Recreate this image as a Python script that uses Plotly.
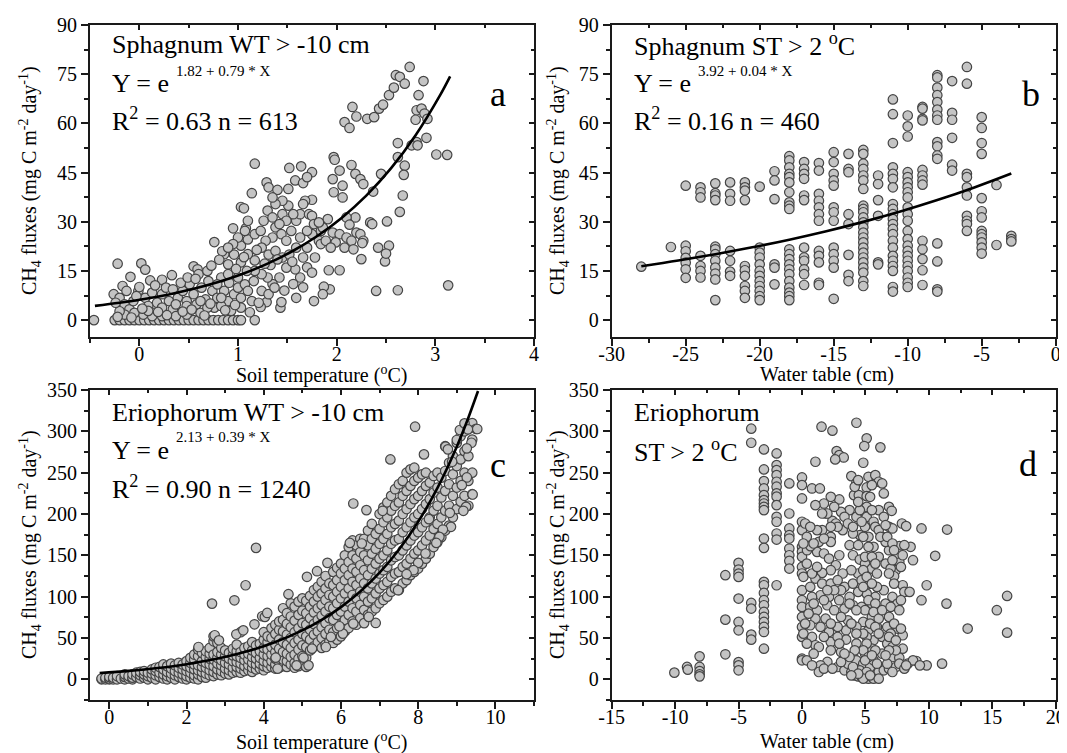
import plotly.graph_objects as go

# The page adds an 8 px body margin, so the figure is drawn 8 px smaller and
# every position below is given in screen pixels and shifted back by OFF.
OFF = 8
W, H = 1067 - OFF, 753 - OFF

# ---------------- data ----------------
# panel a: Sphagnum WT > -10 cm, soil temperature vs CH4 flux
a_zero_x = [-0.46, -0.25, -0.2, -0.15, -0.1, -0.05, 0.0, 0.05, 0.1, 0.15, 0.2, 0.25, 0.3, 0.35,
            0.4, 0.45, 0.5, 0.55, 0.6, 0.65, 0.7, 0.75, 0.8, 0.85, 0.9, 0.95, 1.0, 1.03, 1.17]
a_points = [
    (-0.22, 17.2), (0.02, 17.3), (0.06, 15.4), (-0.09, 13.2), (-0.17, 10.4), (0.11, 12.1), (0.23, 12.3),
    (0.33, 13.7), (0.55, 16.4), (0.59, 15.5), (0.76, 23.8), (0.95, 28.0), (1.03, 34.5), (1.06, 34.1),
    (1.17, 47.7), (1.14, 38.7), (1.08, 28.0), (1.29, 42.0), (1.31, 40.5), (1.40, 39.7), (1.51, 40.0),
    (1.52, 46.4), (1.64, 46.9), (1.58, 42.6), (1.66, 41.8), (1.75, 45.1), (1.70, 43.6), (1.75, 36.7),
    (1.68, 36.4), (1.97, 49.7), (1.98, 48.9), (1.96, 43.0), (1.97, 39.0), (2.06, 41.0), (2.06, 37.4),
    (2.03, 45.6), (2.15, 47.3), (2.19, 44.6), (2.24, 43.0), (2.27, 41.5), (2.08, 60.4), (2.13, 58.6),
    (2.16, 65.0), (2.20, 62.1), (2.31, 61.4), (2.38, 61.9), (2.43, 64.5), (2.47, 65.7), (2.53, 68.6),
    (2.58, 70.9), (2.60, 74.7), (2.64, 74.2), (2.69, 72.1), (2.74, 77.2), (2.88, 72.9), (2.83, 68.6),
    (2.81, 64.0), (2.86, 64.5), (2.89, 63.0), (2.92, 61.4), (2.80, 61.1), (2.81, 54.3), (2.91, 55.6),
    (2.76, 53.3), (2.82, 53.3), (3.01, 50.5), (3.12, 50.4), (3.13, 10.6), (2.62, 54.0), (2.62, 49.7),
    (2.69, 47.1), (2.68, 44.3), (2.67, 38.0), (2.64, 33.0), (2.62, 9.1), (2.40, 8.9), (2.45, 44.6),
    (2.37, 39.2), (2.34, 29.8), (2.36, 29.3), (2.51, 30.1), (2.42, 22.1), (2.53, 22.7), (2.49, 17.9),
    (2.50, 20.3), (2.25, 18.6), (2.03, 15.2), (1.92, 15.2), (1.93, 9.4), (1.87, 10.2), (1.86, 7.9),
    (1.77, 5.8), (1.59, 6.8), (1.43, 3.8), (1.44, 5.5), (1.29, 5.5), (1.23, 4.0),
    (1.96, 26.7), (2.03, 26.2), (2.10, 25.2), (2.15, 24.2), (2.20, 26.7), (2.24, 26.2), (2.27, 24.2),
    (1.99, 23.7), (2.08, 22.1), (2.17, 21.6), (2.19, 31.3), (2.10, 31.3), (2.13, 29.1), (2.26, 23.5),
    (1.91, 30.8), (1.84, 27.2), (1.82, 24.2), (1.75, 26.2), (1.70, 22.1), (1.66, 19.1), (1.78, 19.1),
    (1.70, 16.1), (1.75, 14.5), (1.63, 13.0), (1.66, 10.0), (1.56, 11.0), (1.58, 15.5), (1.49, 16.0),
    (1.42, 13.0), (1.35, 11.0), (1.30, 13.0), (1.24, 14.0), (1.17, 15.0), (1.17, 18.2), (1.10, 20.1),
    (1.03, 17.6), (0.96, 20.0), (0.90, 17.0), (0.86, 20.1), (0.84, 21.0), (1.03, 22.7), (1.10, 24.6),
    (1.17, 26.2), (1.23, 27.2), (1.26, 30.3), (1.30, 33.4), (1.35, 31.3), (1.38, 28.3), (1.44, 26.2),
    (1.49, 24.2), (1.54, 27.2), (1.59, 30.3), (1.63, 32.3), (1.66, 35.4), (1.72, 32.3), (1.75, 31.8),
    (1.56, 32.3), (1.51, 34.9), (1.45, 36.4), (1.38, 35.4), (1.35, 37.4), (1.45, 32.3), (1.49, 30.3),
    (1.42, 29.3), (1.35, 25.2), (1.28, 24.2), (1.24, 22.1), (1.31, 20.0), (1.38, 21.1), (1.45, 19.1),
    (1.52, 20.0), (1.59, 22.1), (1.63, 25.2), (1.70, 27.2), (1.84, 23.2), (1.89, 24.2), (1.94, 22.1),
    (1.86, 28.2), (1.77, 29.3), (1.82, 29.8), (1.07, 27.2), (1.00, 25.2), (0.95, 23.2), (0.90, 22.1),
    (1.10, 30.3), (1.33, 16.8), (1.40, 18.5), (1.47, 9.0),
    (-0.26, 7.9), (-0.20, 6.8), (-0.15, 4.8), (-0.10, 3.3), (-0.06, 5.8), (-0.01, 8.9), (0.00, 10.1),
    (0.06, 6.8), (0.09, 4.3), (0.15, 2.2), (0.18, 5.3), (0.23, 7.9), (0.27, 9.9), (0.30, 5.8),
    (0.34, 3.3), (0.39, 6.8), (0.44, 8.9), (0.48, 5.8), (0.51, 10.9), (0.55, 7.9), (0.58, 4.8),
    (0.63, 9.9), (0.67, 6.3), (0.70, 11.9), (0.74, 8.9), (0.79, 6.8), (0.83, 13.0), (0.86, 8.9),
    (0.90, 5.8), (0.91, 11.4), (0.96, 7.9), (1.00, 9.9), (1.03, 6.8), (1.07, 10.9), (1.10, 8.9),
    (1.14, 5.8), (1.16, 11.9), (0.76, 3.8), (0.62, 2.2), (0.48, 1.7), (0.37, 1.2), (0.23, 1.2),
    (0.13, 1.2), (0.04, 1.7), (-0.05, 2.2), (-0.15, 1.7), (-0.20, 2.7), (-0.24, 5.3), (-0.13, 8.9),
    (-0.03, 7.3), (0.13, 8.4), (0.34, 9.4), (0.42, 11.4), (0.49, 13.0), (0.60, 14.0), (0.69, 15.0),
    (0.79, 10.9), (0.90, 14.0), (1.00, 13.0), (1.09, 15.0), (0.69, 3.8), (0.83, 4.3), (0.93, 2.8),
    (1.03, 3.8), (0.48, 4.3), (0.37, 4.8), (0.23, 3.8), (0.09, 2.8), (0.83, 6.8), (0.62, 5.8),
    (1.24, 8.9), (1.31, 7.9), (1.37, 9.9), (1.21, 5.3),
    (-0.22, 1.0), (-0.08, 0.8), (0.03, 3.5), (0.19, 2.5), (0.28, 1.5), (0.44, 2.6), (0.53, 3.2),
    (0.66, 1.4), (0.72, 5.0), (0.87, 3.0), (0.97, 4.6), (1.12, 2.4), (0.16, 10.6), (0.57, 12.6),
    (0.73, 16.6), (0.81, 18.4), (0.98, 15.6), (1.06, 19.2), (1.19, 21.4), (1.27, 17.2), (1.55, 17.8),
]
a_fit_x = [-0.45, -0.2, 0.05, 0.3, 0.55, 0.8, 1.05, 1.3, 1.55, 1.8, 2.05, 2.3, 2.55, 2.8, 3.05, 3.15]
a_fit_y = [4.33, 5.27, 6.42, 7.82, 9.53, 11.61, 14.15, 17.23, 21.0, 25.58, 31.17, 37.97, 46.26,
           56.37, 68.68, 74.32]

# panel b: Sphagnum ST > 2 oC, water table vs CH4 flux (values grouped by water table)
b_columns = {
    -28: [16.3], -26: [22.3],
    -25: [41.0, 22.7, 21.0, 19.0, 17.5, 15.5, 12.9],
    -24: [40.5, 39.0, 37.4, 19.6, 16.5, 15.0, 13.0],
    -23: [41.7, 38.7, 38.0, 36.6, 22.4, 21.6, 20.1, 18.1, 16.0, 14.2, 12.4, 6.1],
    -22: [42.0, 38.5, 36.4, 21.1, 18.1, 14.8, 13.5],
    -21: [42.0, 40.5, 39.5, 36.6, 16.5, 15.2, 13.5, 10.4, 8.9, 6.8],
    -20: [40.7, 22.1, 20.6, 19.1, 17.0, 15.0, 13.5, 11.9, 10.4, 8.9, 7.3, 6.1],
    -19: [45.4, 42.6, 36.9, 17.0, 16.0, 10.9],
    -18: [50.0, 48.7, 46.6, 44.6, 43.6, 42.0, 39.0, 35.9, 34.9, 33.9, 21.6, 20.1, 18.6, 17.0, 15.5,
          14.0, 11.9, 9.9, 8.4, 7.3, 6.1],
    -17: [48.2, 46.1, 44.6, 43.1, 38.0, 36.6, 22.1, 19.1, 18.1, 15.5, 14.0, 10.7],
    -16: [47.9, 45.6, 38.5, 36.4, 34.4, 32.3, 30.3, 21.1, 19.6, 17.6, 11.4, 10.7],
    -15: [51.2, 48.2, 44.6, 42.6, 41.0, 34.4, 32.9, 30.3, 22.1, 20.1, 18.1, 16.0, 6.5],
    -14: [50.7, 46.1, 45.1, 32.3, 29.3, 19.9, 13.8, 11.9],
    -13: [51.9, 50.7, 47.7, 46.1, 44.1, 42.6, 40.0, 34.9, 33.9, 32.9, 31.3, 29.8, 28.3, 26.7, 25.2,
          23.7, 22.1, 20.6, 19.1, 17.6, 16.0, 14.5, 11.9, 10.4],
    -12: [44.1, 41.5, 36.6, 31.8, 17.6, 17.0],
    -11: [67.3, 62.8, 54.0, 46.6, 44.6, 43.1, 40.5, 35.4, 33.9, 32.3, 30.8, 29.3, 27.8, 26.2, 24.2,
          22.1, 19.6, 18.1, 16.5, 15.0, 10.1, 8.7],
    -10: [62.4, 59.1, 56.0, 45.1, 43.6, 42.0, 40.5, 39.0, 37.4, 34.4, 32.3, 30.3, 27.2, 24.7, 22.7,
          21.1, 19.6, 18.1, 16.5, 15.0, 13.0, 11.4, 10.1],
    -9: [65.0, 64.5, 61.4, 60.9, 45.8, 44.1, 42.6, 41.3, 24.2, 21.6, 18.6, 15.2, 10.7],
    -8: [74.7, 74.0, 70.9, 68.6, 66.5, 64.2, 62.4, 61.1, 54.3, 53.0, 50.2, 49.2, 23.4, 17.9, 9.4, 8.7],
    -7: [72.9, 63.2, 61.1, 55.6, 47.4, 45.6],
    -6: [77.2, 72.1, 44.6, 43.6, 40.5, 38.0, 31.8, 30.3, 29.3, 27.2],
    -5: [61.9, 58.6, 54.0, 50.7, 37.2, 33.2, 31.3, 27.2, 26.2, 25.2, 23.7, 22.1, 20.3],
    -4: [41.2, 22.9],
    -3: [25.7, 24.7, 24.0],
}
b_fit_x = [-28, -25.5, -23, -20.5, -18, -15.5, -13, -10.5, -8, -5.5, -3]
b_fit_y = [16.45, 18.17, 20.09, 22.2, 24.53, 27.11, 29.96, 33.11, 36.6, 40.45, 44.7]

# panel c: Eriophorum WT > -10 cm, soil temperature vs CH4 flux (values grouped by temperature)
c_columns = {
    -0.2: [0, 1], -0.1: [0, 2], 0.0: [0, 1, 3], 0.1: [0, 2], 0.2: [0, 4], 0.3: [1], 0.4: [0, 3, 6],
    0.5: [1, 4], 0.6: [0, 2, 6], 0.7: [3, 8], 0.8: [1, 5, 9], 0.9: [2, 6, 10], 1.0: [0, 4, 8],
    1.1: [2, 7, 12], 1.2: [0, 5, 10, 14], 1.3: [3, 8, 15], 1.4: [1, 6, 12, 18], 1.5: [0, 4, 9, 16],
    1.6: [2, 7, 13, 19], 1.7: [0, 5, 10, 17], 1.8: [3, 8, 14, 20], 1.9: [1, 6, 12, 18],
    2.0: [0, 4, 10, 16, 22], 2.1: [2, 8, 14, 20, 26], 2.2: [1, 5, 12, 18, 24, 30],
    2.3: [0, 6, 11, 17, 28, 36], 2.4: [3, 9, 15, 22, 32], 2.5: [2, 7, 14, 20, 27, 34],
    2.6: [5, 11, 18, 25, 31, 38], 2.7: [4, 9, 16, 24, 30, 46, 52], 2.8: [6, 12, 19, 26, 33, 44],
    2.9: [5, 10, 17, 23, 30, 38], 3.0: [7, 13, 20, 28, 35], 3.1: [6, 11, 18, 25, 32],
    3.2: [8, 14, 22, 29, 37], 3.3: [9, 15, 21, 28, 34, 42], 3.4: [8, 13, 19, 26, 33, 57],
    3.5: [10, 16, 23, 30, 38], 3.6: [11, 17, 24, 31, 40], 3.7: [9, 14, 20, 27, 35, 45],
    3.8: [12, 18, 25, 32, 41], 3.9: [13, 19, 26, 34, 43], 4.0: [11, 16, 22, 30, 38, 48, 57],
    4.1: [14, 20, 28, 36, 45, 52], 4.2: [15, 22, 30, 39, 50, 62], 4.3: [13, 18, 25, 33, 42, 55, 66],
    4.4: [14, 21, 29, 37, 48, 60, 70], 4.5: [16, 24, 33, 45, 58, 72, 86],
    4.6: [15, 22, 31, 42, 54, 67, 80], 4.7: [18, 27, 38, 50, 63, 76, 92],
    4.8: [14, 20, 30, 44, 57, 71, 88], 4.9: [16, 25, 36, 48, 62, 78, 94],
    5.0: [19, 28, 41, 55, 68, 83, 98], 5.1: [15, 26, 39, 52, 66, 80, 95],
    5.2: [35, 48, 60, 74, 88, 101], 5.3: [40, 54, 67, 81, 94, 108], 5.4: [45, 58, 72, 86, 100, 112],
    5.5: [38, 50, 63, 77, 90, 104, 118], 5.6: [42, 55, 68, 82, 96, 110, 125],
    5.7: [46, 60, 74, 88, 102, 116], 5.8: [44, 57, 72, 86, 100, 114, 130],
    5.9: [48, 62, 78, 92, 106, 120, 135], 6.0: [52, 66, 82, 98, 112, 128, 140],
    6.1: [58, 72, 88, 104, 120, 134, 150], 6.2: [62, 78, 94, 110, 126, 142, 160],
    6.3: [70, 86, 102, 118, 134, 150, 168], 6.4: [66, 82, 98, 114, 130, 146, 162],
    6.5: [74, 90, 106, 122, 138, 154, 170], 6.6: [68, 84, 100, 116, 132, 150, 170],
    6.7: [78, 94, 110, 126, 144, 162, 180], 6.8: [82, 98, 116, 134, 152, 170, 188],
    6.9: [86, 104, 122, 140, 158, 176], 7.0: [92, 110, 128, 146, 164, 182, 200],
    7.1: [96, 114, 132, 150, 170, 190, 208], 7.2: [100, 118, 136, 156, 176, 196, 214],
    7.3: [106, 124, 144, 164, 184, 204, 222], 7.4: [110, 128, 148, 168, 188, 210, 230],
    7.5: [108, 130, 150, 170, 192, 214, 236], 7.6: [116, 136, 156, 178, 200, 222, 240],
    7.7: [120, 140, 162, 184, 206, 228, 250], 7.8: [126, 146, 168, 190, 212, 234, 254],
    7.9: [130, 152, 174, 196, 218, 240, 256], 8.0: [134, 156, 178, 200, 222, 244],
    8.1: [140, 162, 184, 206, 228, 248], 8.2: [146, 168, 190, 212, 234, 250],
    8.3: [152, 174, 196, 218, 238], 8.4: [160, 182, 204, 226, 246], 8.5: [166, 188, 210, 232, 250],
    8.6: [172, 196, 220, 244], 8.7: [180, 204, 228, 252, 282], 8.8: [186, 210, 236, 262],
    8.9: [196, 222, 248, 270], 9.0: [206, 232, 258, 286], 9.1: [215, 240, 266, 294],
    9.2: [222, 250, 276, 300], 9.3: [210, 240, 270, 305], 9.4: [224, 250, 290, 310], 9.5: [303],
}
c_points = [
    (2.66, 91.6), (3.24, 95.6), (3.53, 113.8), (3.80, 159.0), (3.76, 66.6), (3.96, 76.3), (4.03, 75.5),
    (4.09, 80.3), (3.29, 54.5), (3.47, 59.3), (2.73, 53.3), (2.84, 47.2), (2.31, 39.1), (5.12, 124.0),
    (5.38, 130.8), (5.65, 140.9), (4.64, 103.0), (7.92, 305.6), (7.28, 266.0), (6.32, 212.7),
    (6.66, 204.7), (7.08, 203.9), (6.23, 165.0), (6.54, 164.3), (8.15, 272.1), (8.71, 281.4),
    (8.77, 278.2), (8.88, 263.2), (9.08, 301.6), (9.20, 309.6), (9.29, 302.4), (9.53, 302.8),
    (9.38, 286.2), (9.26, 279.4), (9.00, 289.5), (9.26, 244.2), (9.13, 234.9), (9.41, 223.6),
    (9.24, 208.7), (9.17, 203.9), (8.82, 201.4), (8.85, 184.5), (8.64, 181.2), (8.55, 172.4),
    (8.47, 165.0), (8.28, 193.8), (8.19, 152.2), (8.00, 140.9), (7.88, 132.0), (7.70, 127.2),
    (7.48, 107.8), (6.90, 68.2), (6.72, 75.5), (6.32, 67.4), (6.05, 55.3), (5.96, 64.2), (5.61, 39.1),
    (5.74, 51.3), (5.25, 37.1), (5.16, 16.9), (5.03, 26.2), (4.85, 16.9), (4.36, 12.9), (4.31, 26.2),
]
c_fit_x = [-0.25, 0.5, 1.25, 2, 2.75, 3.5, 4.25, 5, 5.5, 6, 6.5, 7, 7.5, 8, 8.5, 9, 9.25, 9.55]
c_fit_y = [7.63, 10.23, 13.7, 18.36, 24.59, 32.95, 44.15, 59.15, 71.88, 87.36, 106.16, 129.02,
           156.8, 190.57, 231.59, 281.46, 310.3, 348.82]

# panel d: Eriophorum ST > 2 oC, water table vs CH4 flux
d_columns = {
    -5: [140.9, 132.8, 127.9, 123.9, 97.7, 69.4, 59.3, 20.9, 16.9, 10.9],
    -4: [303.2, 286.2, 92.4, 85.6, 54.1, 48.0],
    -3: [278.1, 253.9, 239.8, 230.9, 222.8, 216.8, 212.7, 208.7, 204.7, 170.3, 159.0, 117.9, 113.8,
         104.5, 95.7, 89.6, 81.5, 75.5, 69.4, 63.4, 57.3, 37.1],
    -2: [273.3, 259.2, 253.1, 247.0, 239.0, 233.0, 225.0, 221.0, 210.7, 196.6, 190.6, 176.4, 169.1, 113.8],
    -1: [237.0, 200.6, 182.5, 174.4, 170.3, 158.2, 150.1, 143.3, 134.0],
    0: [244.2, 235.0, 218.8, 190.6, 180.5, 160.3, 154.2, 148.2, 136.0, 128.0, 107.8, 95.7, 87.6, 75.5,
        63.4, 51.3, 25.0, 23.0],
}
d_points = [
    (-10.06, 8.1), (-9.06, 15.0), (-9.0, 11.7), (-8.07, 27.8), (-8.07, 15.0), (-8.07, 10.0),
    (-8.07, 6.0), (-8.07, 3.6), (-6.04, 126.0), (-6.04, 72.2), (-6.04, 30.3),
    (1.06, 263.2), (0.79, 230.9), (1.41, 230.9), (1.54, 305.6), (2.40, 300.8), (2.73, 276.1),
    (2.94, 271.3), (3.29, 268.4), (2.62, 266.0), (4.29, 310.4), (5.10, 291.5), (4.91, 282.2),
    (6.18, 280.6), (4.83, 262.0), (3.89, 245.8), (4.29, 237.8), (5.24, 245.0), (5.78, 247.0),
    (6.05, 239.0), (6.32, 237.0), (6.45, 224.9), (5.10, 232.1), (4.10, 222.8), (4.48, 222.8),
    (5.10, 221.6), (2.94, 217.6), (1.73, 212.7), (1.06, 210.7), (1.86, 200.6), (3.75, 204.7),
    (5.10, 208.7), (6.05, 204.7), (6.86, 208.7), (7.07, 203.9), (6.86, 184.5), (7.13, 182.5),
    (7.88, 188.5), (8.21, 185.3), (9.42, 182.5), (11.44, 181.2), (10.50, 149.4), (8.56, 160.3),
    (7.67, 161.1), (8.75, 144.1), (9.83, 113.8), (9.42, 95.7), (11.39, 91.6), (13.06, 61.4),
    (15.36, 83.6), (16.17, 100.9), (16.17, 56.5), (11.04, 19.0), (9.83, 16.9), (9.02, 22.2),
    (8.34, 19.0), (7.94, 37.1), (7.94, 53.3), (7.53, 61.4), (6.86, 75.5), (6.59, 91.6), (6.45, 107.8),
    (7.94, 113.8), (8.07, 105.8), (8.48, 105.8), (7.40, 132.0), (7.67, 142.1), (6.59, 140.0),
    (6.86, 156.2), (6.99, 134.0), (7.26, 124.7), (6.05, 148.2), (6.32, 172.4), (6.59, 166.3),
    (5.64, 160.3), (5.24, 172.4), (4.56, 174.4), (4.02, 176.4), (3.75, 162.3), (3.21, 180.5),
    (2.27, 172.4), (2.27, 166.3), (2.40, 191.7), (2.67, 188.5), (1.59, 180.5), (1.33, 166.3),
    (1.19, 154.2), (0.40, 156.2), (0.67, 161.1), (1.73, 152.2), (2.13, 146.1), (2.94, 150.1),
    (4.02, 150.1), (4.56, 144.9), (4.97, 140.0), (5.51, 134.0), (4.43, 128.0), (3.89, 132.0),
    (3.21, 128.0), (2.67, 138.0), (2.27, 132.0), (1.59, 128.8), (1.06, 121.9), (0.65, 111.8),
    (1.59, 115.8), (2.27, 115.8), (2.81, 119.9), (3.35, 111.8), (4.02, 115.8), (4.70, 119.9),
    (5.37, 115.8), (5.91, 111.8), (5.78, 99.7), (5.10, 103.7), (4.43, 105.8), (3.75, 99.7),
    (2.94, 95.7), (2.13, 99.7), (1.46, 101.7), (0.79, 99.7), (0.65, 87.6), (1.19, 83.6), (1.99, 89.6),
    (2.54, 83.6), (3.35, 85.6), (4.02, 89.6), (4.70, 87.6), (5.51, 91.6), (6.18, 83.6), (5.51, 75.5),
    (4.83, 69.4), (4.29, 63.4), (3.62, 71.4), (3.08, 75.5), (1.86, 73.4), (1.06, 73.4), (0.65, 65.4),
    (1.46, 63.4), (2.13, 57.3), (3.48, 59.3), (5.24, 59.3), (5.91, 63.4), (6.72, 63.4), (6.99, 55.3),
    (6.32, 51.3), (5.64, 47.2), (5.10, 51.3), (4.29, 43.2), (3.48, 48.1), (2.27, 45.2), (0.79, 51.3),
    (1.06, 41.2), (2.27, 35.1), (3.08, 33.1), (4.02, 29.1), (4.97, 31.0), (5.51, 37.1), (6.32, 31.0),
    (7.13, 27.0), (7.67, 26.2), (8.75, 23.0), (9.29, 16.9),
    (2.81, 14.9), (3.35, 10.9), (3.89, 8.9), (4.16, 4.8), (4.43, 3.6), (4.70, 2.8), (4.97, 2.0),
    (5.24, 0.8), (5.51, 2.8), (5.78, 4.8), (6.05, 8.9), (6.45, 10.9), (6.86, 12.9), (7.40, 14.9),
    (3.62, 18.9), (4.29, 23.0), (4.83, 18.9), (5.37, 14.9), (5.64, 23.0), (5.91, 18.9), (4.56, 10.9),
    (5.10, 8.9), (4.02, 14.9), (3.08, 21.0), (2.00, 21.0), (1.46, 17.0), (1.33, 8.9), (1.73, 12.9),
    (0.38, 23.0), (0.79, 17.0), (2.40, 12.9), (6.72, 18.9), (7.13, 8.9), (7.67, 18.9), (8.07, 12.9),
    (8.21, 16.9), (4.83, 0.8), (5.64, 0.8), (6.05, 0.8), (5.37, 4.8), (4.43, 6.8), (3.89, 4.8),
    (4.83, 192.6), (4.97, 184.5), (5.10, 196.6), (4.83, 172.4), (5.24, 160.3), (4.97, 148.2),
    (4.83, 132.0), (5.10, 124.0), (4.83, 111.8), (5.24, 95.7), (4.97, 83.6), (4.83, 55.3), (5.10, 43.2),
    (4.83, 35.1), (5.24, 27.0), (4.97, 23.0), (5.37, 67.4), (4.43, 162.3), (5.51, 148.2), (5.78, 140.0),
    (5.91, 128.0), (5.51, 115.8), (5.78, 91.6), (5.64, 81.5), (6.05, 73.4), (6.32, 83.6), (5.78, 63.4),
    (6.05, 55.3), (6.72, 43.2), (7.13, 39.1), (7.40, 35.1), (5.78, 35.1), (5.51, 29.1), (4.16, 35.1),
    (3.75, 27.0), (3.35, 31.0), (4.29, 55.3), (3.89, 67.4), (2.81, 63.4), (2.27, 67.4), (1.73, 51.3),
    (1.33, 39.1), (2.81, 51.3), (2.94, 43.2), (4.29, 83.6), (3.75, 91.6), (3.08, 107.8), (2.54, 107.8),
    (2.00, 107.8), (1.73, 95.7), (0.92, 91.6), (0.52, 79.5), (0.25, 67.4), (0.11, 55.3), (0.38, 43.2),
    (0.92, 31.0), (0.25, 188.5), (0.38, 172.4), (0.92, 164.3), (0.11, 164.3), (0.38, 140.0),
    (0.11, 124.0), (0.79, 128.0), (1.19, 136.0), (3.08, 202.6), (3.35, 196.6), (2.54, 208.7),
    (2.81, 184.5), (3.62, 188.5), (4.02, 184.5), (4.29, 196.6), (4.56, 204.7), (4.70, 190.6),
    (4.43, 214.7), (4.16, 232.9), (4.43, 241.0), (5.51, 234.9), (5.37, 220.8), (5.51, 204.7),
    (5.64, 190.6), (5.78, 184.5), (6.05, 180.5), (6.45, 196.6), (6.59, 186.5), (6.18, 172.4),
    (6.72, 172.4), (7.13, 164.3), (7.53, 152.2), (7.26, 156.2), (8.07, 162.3), (7.94, 150.1),
    (7.80, 136.0), (7.13, 144.1), (6.86, 128.0), (7.26, 115.8), (7.13, 99.7), (7.53, 91.6),
    (6.99, 87.6), (7.80, 95.7), (7.67, 83.6), (7.26, 67.4), (7.80, 61.4), (6.86, 51.3), (7.40, 47.2),
    (6.86, 35.1), (6.59, 29.1), (2.27, 220.8), (2.00, 200.6), (2.27, 184.5), (1.59, 200.6),
    (1.73, 170.3), (1.19, 180.5), (0.65, 184.5),
]


def unzip(pairs):
    return [p[0] for p in pairs], [p[1] for p in pairs]


def from_columns(cols):
    xs, ys = [], []
    for k, vals in cols.items():
        xs += [k] * len(vals)
        ys += vals
    return xs, ys


ax_x, ax_y = unzip(a_points)
ax_x = a_zero_x + ax_x
ax_y = [0] * len(a_zero_x) + ax_y
bx, by = from_columns(b_columns)
cx, cy = from_columns(c_columns)
cpx, cpy = unzip(c_points)
cx, cy = cx + cpx, cy + cpy
dx, dy = from_columns(d_columns)
dpx, dpy = unzip(d_points)
dx, dy = dx + dpx, dy + dpy

# ---------------- figure ----------------
FONT = "Liberation Serif"
marker = dict(size=9.5, color="#c4c4c4", line=dict(color="#454545", width=1.2))
fit_line = dict(color="black", width=2.6, shape="spline")

fig = go.Figure()
panels = [
    (ax_x, ax_y, a_fit_x, a_fit_y, "x", "y"),
    (bx, by, b_fit_x, b_fit_y, "x2", "y2"),
    (cx, cy, c_fit_x, c_fit_y, "x3", "y3"),
    (dx, dy, None, None, "x4", "y4"),
]
for sx, sy, fx, fy, xa, ya in panels:
    fig.add_trace(go.Scatter(x=sx, y=sy, mode="markers", marker=marker, xaxis=xa, yaxis=ya,
                             showlegend=False, hoverinfo="skip"))
    if fx is not None:
        fig.add_trace(go.Scatter(x=fx, y=fy, mode="lines", line=fit_line, xaxis=xa, yaxis=ya,
                                 showlegend=False, hoverinfo="skip"))


def px_x(v):
    return (v - OFF) / W


def px_y(v):
    return 1 - (v - OFF) / H


dom_x = {"L": [px_x(90), px_x(534)], "R": [px_x(611.7), px_x(1055.7)]}
dom_y = {"T": [px_y(336.5), px_y(25)], "B": [px_y(700), px_y(390)]}

# (x range, x ticks, x minor, y range, y ticks, y minor, column, row)
axes_spec = [
    ([-0.5, 4], [0, 1, 2, 3, 4], 0.5, [-5, 90], [0, 15, 30, 45, 60, 75, 90], 7.5, "L", "T"),
    ([-30, 0], [-30, -25, -20, -15, -10, -5, 0], 2.5, [-5, 90], [0, 15, 30, 45, 60, 75, 90], 7.5, "R", "T"),
    ([-0.5, 11], [0, 2, 4, 6, 8, 10], 1, [-25, 350], [0, 50, 100, 150, 200, 250, 300, 350], 25, "L", "B"),
    ([-15, 20], [-15, -10, -5, 0, 5, 10, 15, 20], 2.5, [-25, 350], [0, 50, 100, 150, 200, 250, 300, 350], 25,
     "R", "B"),
]
tickfont = dict(family=FONT, size=20, color="black")
line_col = "#1a1a1a"


def axis(vals, rng, dom, anchor, minor_step, inside=False):
    return dict(
        domain=dom, range=rng, anchor=anchor, tickmode="array", tickvals=vals,
        ticktext=[str(v) for v in vals], showgrid=False, zeroline=False, automargin=False,
        ticks="inside" if inside else "outside", ticklen=5 if inside else 7, tickwidth=1.5,
        tickcolor=line_col, tickfont=tickfont,
        minor=dict(dtick=minor_step, tick0=0, ticks="inside" if inside else "outside",
                   ticklen=3 if inside else 4, tickwidth=1.5, tickcolor=line_col),
    )


layout = {}
for i, (xr, xt, xm, yr, yt, ym, col, row) in enumerate(axes_spec, start=1):
    s = "" if i == 1 else str(i)
    xa = axis(xt, xr, dom_x[col], "y" + s, xm)
    xa.update(showline=True, linecolor=line_col, linewidth=2, mirror=True, ticklabelstandoff=-9)
    ya = axis(yt, yr, dom_y[row], "x" + s, ym)
    ya.update(showline=True, linecolor=line_col, linewidth=2, mirror=True)
    layout["xaxis" + s] = xa
    layout["yaxis" + s] = ya
    # inward ticks on the top and right edges
    top = axis(xt, xr, dom_x[col], "y" + s, xm, inside=True)
    top.update(overlaying="x" + s, side="top", showline=False, showticklabels=False)
    top.pop("domain")
    right = axis(yt, yr, dom_y[row], "x" + s, ym, inside=True)
    right.update(overlaying="y" + s, side="right", showline=False, showticklabels=False)
    right.pop("domain")
    layout["xaxis" + str(i + 4)] = top
    layout["yaxis" + str(i + 4)] = right
    fig.add_trace(go.Scatter(x=[None], y=[None], xaxis="x" + str(i + 4), yaxis="y" + s,
                             showlegend=False, hoverinfo="skip"))
    fig.add_trace(go.Scatter(x=[None], y=[None], xaxis="x" + s, yaxis="y" + str(i + 4),
                             showlegend=False, hoverinfo="skip"))


def ann(text, px, py, size, xanchor="left", angle=0):
    return dict(text=text, x=px_x(px), y=px_y(py), xref="paper", yref="paper", xanchor=xanchor,
                yanchor="middle", showarrow=False, textangle=angle,
                font=dict(family=FONT, size=size, color="black"))


ytitle = "CH<sub>4</sub> fluxes (mg C m<sup>-2</sup> day<sup>-1</sup>)"
big, sup = 26, 15
annotations = [
    # panel a
    ann("Sphagnum WT > -10 cm", 110, 45, big),
    ann("Y = e", 110, 84, big),
    ann("1.82 + 0.79 * X", 174, 71, sup),
    ann("R<sup>2</sup> = 0.63 n = 613", 110, 120, big),
    ann("a", 498, 94, 36, "center"),
    # panel b
    ann("Sphagnum ST > 2 <sup>o</sup>C", 632, 45, big),
    ann("Y = e", 632, 84, big),
    ann("3.92 + 0.04 * X", 696, 71, sup),
    ann("R<sup>2</sup> = 0.16 n = 460", 632, 120, big),
    ann("b", 1031, 94, 36, "center"),
    # panel c
    ann("Eriophorum WT > -10 cm", 110, 412, big),
    ann("Y = e", 110, 450, big),
    ann("2.13 + 0.39 * X", 174, 437, sup),
    ann("R<sup>2</sup> = 0.90 n = 1240", 110, 487, big),
    ann("c", 498, 465, 36, "center"),
    # panel d
    ann("Eriophorum", 632, 412, big),
    ann("ST > 2 <sup>o</sup>C", 632, 450, big),
    ann("d", 1028, 464, 36, "center"),
    # axis titles
    ann(ytitle, 30, 181, 20, "center", -90),
    ann(ytitle, 558, 181, 20, "center", -90),
    ann(ytitle, 30, 545, 20, "center", -90),
    ann(ytitle, 558, 545, 20, "center", -90),
    ann("Soil temperature (<sup>o</sup>C)", 321, 374, 20, "center"),
    ann("Water table (cm)", 827, 374, 20, "center"),
    ann("Soil temperature (<sup>o</sup>C)", 321, 741, 20, "center"),
    ann("Water table (cm)", 827, 741, 20, "center"),
]

fig.update_layout(
    width=W, height=H, margin=dict(l=0, r=0, t=0, b=0, pad=0, autoexpand=False),
    paper_bgcolor="white", plot_bgcolor="white",
    font=dict(family=FONT, color="black"),
    annotations=annotations, showlegend=False,
    **layout,
)

fig.write_html("out.html")
